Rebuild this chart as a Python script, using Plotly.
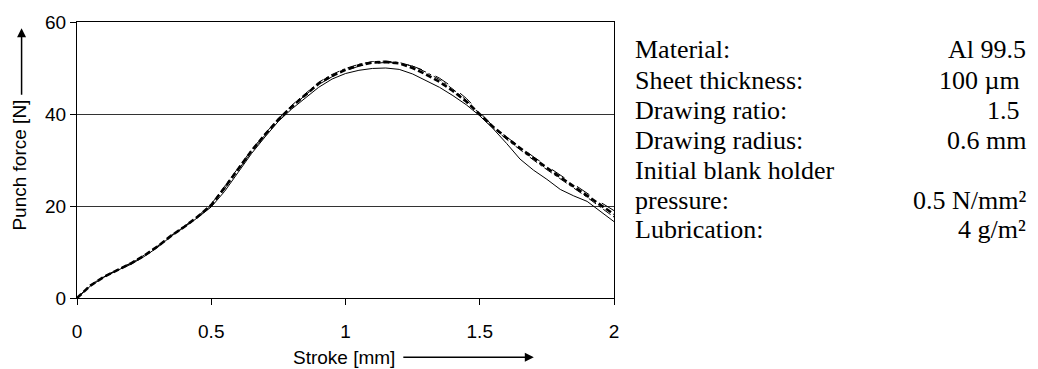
import plotly.graph_objects as go

stroke = [0.00, 0.05, 0.10, 0.15, 0.20, 0.25, 0.30, 0.35, 0.40, 0.45,
          0.50, 0.55, 0.60, 0.65, 0.70, 0.75, 0.80, 0.85, 0.90, 0.95,
          1.00, 1.05, 1.10, 1.15, 1.20, 1.25, 1.30, 1.35, 1.40, 1.45,
          1.50, 1.55, 1.60, 1.65, 1.70, 1.75, 1.80, 1.85, 1.90, 1.95, 2.00]

force_solid = [0.0, 2.6, 4.5, 6.0, 7.3, 9.0, 11.0, 13.4, 15.4, 17.5,
               19.8, 23.2, 27.3, 31.4, 35.0, 38.4, 41.1, 43.5, 45.8, 47.6,
               48.8, 49.5, 49.9, 50.0, 49.7, 48.7, 47.3, 45.8, 44.0, 42.0,
               39.6, 36.8, 33.6, 30.2, 27.8, 25.8, 23.6, 22.2, 21.0, 18.8, 16.6]

force_dash = [0.0, 2.7, 4.6, 6.1, 7.5, 9.2, 11.2, 13.5, 15.5, 17.7,
              20.2, 24.0, 28.0, 32.0, 35.5, 38.8, 41.6, 44.2, 46.6, 48.3,
              49.6, 50.6, 51.2, 51.3, 51.0, 50.0, 48.6, 47.0, 45.0, 42.7,
              40.0, 37.2, 34.8, 32.5, 30.4, 28.3, 26.3, 24.3, 22.3, 20.2, 18.2]

force_dashdot = [0.0, 2.8, 4.7, 6.2, 7.6, 9.3, 11.3, 13.6, 15.6, 17.8,
                 20.4, 24.3, 28.3, 32.2, 35.7, 39.0, 41.9, 44.5, 46.9, 48.6,
                 49.9, 50.8, 51.4, 51.5, 51.2, 50.4, 49.1, 47.5, 45.4, 43.0,
                 40.1, 37.0, 34.5, 32.2, 30.0, 27.9, 25.9, 23.9, 21.9, 19.7, 17.6]

force_longdash = [0.0, 2.7, 4.6, 6.1, 7.5, 9.2, 11.2, 13.5, 15.5, 17.6,
                  20.1, 23.8, 27.8, 31.8, 35.4, 38.7, 41.5, 44.1, 46.4, 48.1,
                  49.4, 50.4, 51.0, 51.2, 51.1, 50.4, 49.3, 47.8, 45.8, 43.4,
                  40.4, 37.3, 35.0, 32.8, 30.7, 28.7, 26.7, 24.7, 22.8, 20.8, 19.0]

x_ticks = [0, 0.5, 1, 1.5, 2]
x_tick_labels = ["0", "0.5", "1", "1.5", "2"]
y_ticks = [0, 20, 40, 60]
y_tick_labels = ["0", "20", "40", "60"]

param_names = ["Material:", "Sheet thickness:", "Drawing ratio:", "Drawing radius:",
               "Initial blank holder", "pressure:", "Lubrication:"]
param_values = ["Al 99.5", "100 µm ", "1.5 ", "0.6 mm", "", "0.5 N/mm²", "4 g/m²"]

fig = go.Figure()
fig.add_trace(go.Scatter(x=stroke, y=force_longdash, mode="lines",
                         line=dict(color="black", width=1, dash="longdash")))
fig.add_trace(go.Scatter(x=stroke, y=force_dashdot, mode="lines",
                         line=dict(color="black", width=1, dash="dashdot")))
fig.add_trace(go.Scatter(x=stroke, y=force_dash, mode="lines",
                         line=dict(color="black", width=2.6, dash="6px,3px")))
fig.add_trace(go.Scatter(x=stroke, y=force_solid, mode="lines",
                         line=dict(color="black", width=1)))

W, H = 1038, 369
L, R, T, B = 76.5, 614.3, 15.5, 298.3
pw, ph = R - L, B - T

def px(xp):
    return (xp - L) / pw

def py(yp):
    return (B - yp) / ph

font_sans = "Liberation Sans, Arial, sans-serif"
font_serif = "Liberation Serif, Times New Roman, serif"

anns = []
row_y = [44, 75, 106, 137, 168, 198.5, 228.5]
for name, val, yy in zip(param_names, param_values, row_y):
    anns.append(dict(text=name, xref="paper", yref="paper", x=px(633), y=py(yy),
                     xanchor="left", yanchor="middle", showarrow=False,
                     font=dict(family=font_serif, size=26, color="black")))
    if val:
        anns.append(dict(text=val, xref="paper", yref="paper", x=px(1029), y=py(yy),
                         xanchor="right", yanchor="middle", showarrow=False,
                         font=dict(family=font_serif, size=26, color="black")))

# axis titles with arrows
anns.append(dict(text="Punch force [N]", xref="paper", yref="paper",
                 x=px(19), y=py(162), textangle=-90, xanchor="center", yanchor="middle",
                 showarrow=False, font=dict(family=font_sans, size=19, color="black")))
anns.append(dict(text="", xref="paper", yref="paper", x=px(21), y=py(22),
                 ax=0, ay=68, axref="pixel", ayref="pixel", showarrow=True,
                 arrowhead=2, arrowsize=1.2, arrowwidth=1.5, arrowcolor="black"))
anns.append(dict(text="Stroke [mm]", xref="paper", yref="paper",
                 x=px(344), y=py(359), xanchor="center", yanchor="middle",
                 showarrow=False, font=dict(family=font_sans, size=19, color="black")))
anns.append(dict(text="", xref="paper", yref="paper", x=px(534), y=py(359),
                 ax=-132, ay=0, axref="pixel", ayref="pixel", showarrow=True,
                 arrowhead=2, arrowsize=1.2, arrowwidth=1.5, arrowcolor="black"))

fig.update_layout(
    width=W, height=H,
    margin=dict(l=L, r=W - R, t=T, b=H - B, pad=0),
    paper_bgcolor="white", plot_bgcolor="white",
    showlegend=False,
    annotations=anns,
    xaxis=dict(range=[0, 2], tickvals=x_ticks, ticktext=x_tick_labels,
               showgrid=False, zeroline=False, showline=True, linecolor="black",
               linewidth=1, mirror=True, ticks="outside", ticklen=6, tickcolor="black",
               ticklabelstandoff=10,
               tickfont=dict(family=font_sans, size=19, color="black")),
    yaxis=dict(range=[0, 60], tickvals=y_ticks, ticktext=y_tick_labels,
               showgrid=True, gridcolor="#333333", gridwidth=1, zeroline=False,
               showline=True, linecolor="black", linewidth=1, mirror=True,
               ticks="outside", ticklen=6, tickcolor="black",
               tickfont=dict(family=font_sans, size=19, color="black")),
)

fig.write_html("out.html")
